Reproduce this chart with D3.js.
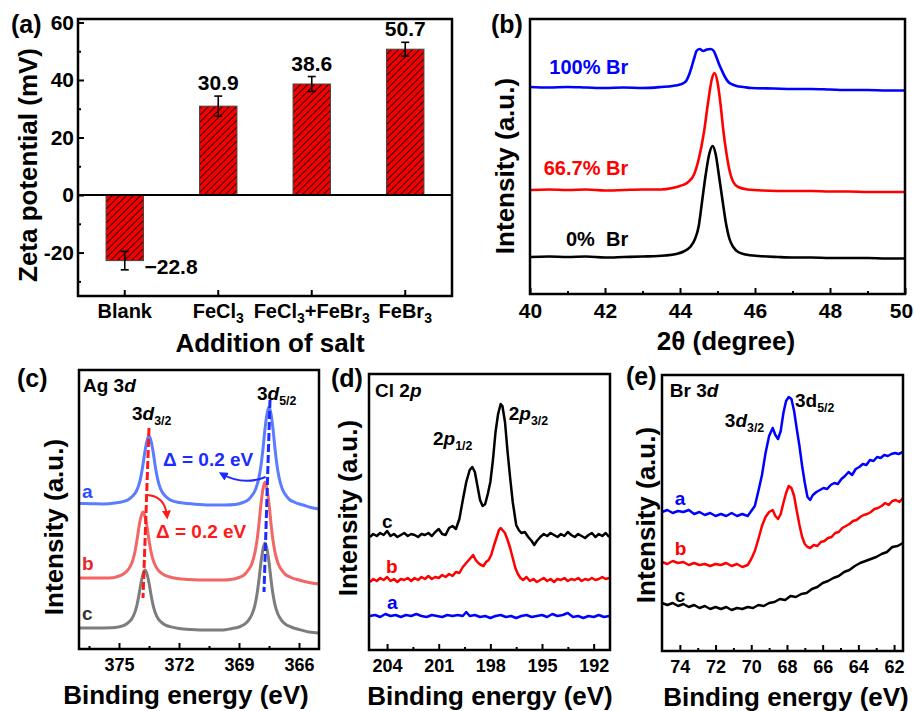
<!DOCTYPE html>
<html>
<head>
<meta charset="utf-8">
<script src="https://cdn.jsdelivr.net/npm/d3@7"></script>
<style>
  body { margin: 0; background: #fff; }
  svg text { font-family: "Liberation Sans", Arial, sans-serif; font-weight: bold; }
</style>
</head>
<body>
<svg id="fig" width="914" height="711"></svg>
<script>
/*
     GLOBAL LAYOUT CONSTANTS
     plot frames of the five panels, in page pixels
*/
var width = 914;
var height = 711;

var boxA = {left: 78,  top: 19,  right: 452, bottom: 296};
var boxB = {left: 530, top: 19,  right: 905, bottom: 294};
var boxC = {left: 79,  top: 370, right: 319, bottom: 649};
var boxD = {left: 369, top: 374, right: 610, bottom: 650};
var boxE = {left: 662, top: 375, right: 903, bottom: 651};

/*
     DATA (a) zeta potential
*/
var salts = ["Blank", "FeCl3", "FeCl3+FeBr3", "FeBr3"];
var zeta = [-22.8, 30.9, 38.6, 50.7];
var zetaErr = [3.2, 3.5, 2.6, 2.4];
var zetaTicks = [-20, 0, 20, 40, 60];
var zetaMinor = [-30, -10, 10, 30, 50];

/*
     DATA (b) XRD, 2theta vs intensity (a.u.)
*/
var xrdTicks = [40, 42, 44, 46, 48, 50];
var xrdMinor = [41, 43, 45, 47, 49];
var xrd0 = [[40,37],[40.5,37.5],[41,37],[41.5,37.5],[42,36.5],[42.5,37],[43,37.5],[43.6,38.5],[43.9,40],[44.1,42.5],[44.27,47],[44.4,55],[44.5,68],[44.58,90],[44.68,118],[44.78,140],[44.87,148],[44.95,140],[45.04,118],[45.14,92],[45.22,72],[45.32,55],[45.42,47],[45.55,42],[45.75,39.5],[46.1,38],[46.6,37],[47,36.5],[47.5,36.5],[48,36],[48.5,36],[49,36],[49.5,35.5],[50,35.5]];
var xrd67 = [[40,104],[40.5,104.5],[41,104],[41.5,104.5],[42,103.5],[42.5,104],[43,104.5],[43.5,104.5],[43.8,106],[44.0,108],[44.22,112],[44.38,120],[44.5,135],[44.64,162],[44.75,192],[44.85,215],[44.92,221],[45.0,212],[45.08,190],[45.16,162],[45.25,138],[45.33,122],[45.42,112],[45.55,107],[45.8,104.5],[46.2,103.5],[47,103],[47.5,103],[48,102.5],[48.5,102.5],[49,102],[49.5,102],[50,102]];
var xrd100 = [[40,207],[40.5,206.5],[41,207],[41.5,206.5],[42,206],[42.5,206.5],[43,206],[43.5,207],[43.8,208],[44.0,209.5],[44.1,211],[44.18,214],[44.25,220],[44.31,227],[44.38,236],[44.44,243],[44.52,245],[44.62,243],[44.72,244.5],[44.82,245],[44.9,243],[44.98,236],[45.05,229],[45.11,224],[45.2,217],[45.29,212],[45.4,209.5],[45.51,208],[45.7,207],[45.9,206],[46.5,205.5],[47,205],[47.5,205],[48,204.5],[48.5,204],[49,204],[49.5,203.5],[50,203.5]];

/*
     DATA (c) Ag 3d XPS, binding energy (eV) vs intensity (a.u.)
*/
var agTicks = [375, 372, 369, 366];
var agMinor = [376.5, 373.5, 370.5, 367.5];
var agA = [[377.0,145.5],[376.4,145.3],[375.8,145.1],[375.2,146],[374.8,147.4],[374.5,149.8],[374.3,153.2],[374.15,157.2],[374.0,164.7],[373.9,172.9],[373.8,184.4],[373.7,198],[373.6,208.2],[373.5,213],[373.4,208.2],[373.3,198],[373.2,184.4],[373.1,172.9],[373.0,164.7],[372.85,157.2],[372.7,153.2],[372.5,149.8],[372.2,147.4],[371.8,146],[371.3,145],[370.5,144],[369.7,144],[369.2,144.5],[368.8,146.5],[368.5,149.9],[368.3,154.9],[368.15,160.8],[368.0,171.7],[367.9,183.6],[367.8,200.4],[367.7,220.2],[367.6,235.1],[367.5,242],[367.4,235.1],[367.3,220.2],[367.2,200.4],[367.1,183.6],[367.0,171.7],[366.85,160.8],[366.7,154.9],[366.5,149.9],[366.2,146.5],[365.8,144],[365.4,141.5],[365.0,140]];
var agB = [[377.0,71],[376.2,71],[375.5,71],[375.1,72.3],[374.8,74.7],[374.6,78],[374.45,82.1],[374.3,89.4],[374.2,97.5],[374.1,108.9],[374.0,122.3],[373.9,132.3],[373.8,137],[373.7,132.3],[373.6,122.3],[373.5,108.9],[373.4,97.5],[373.3,89.4],[373.15,82.1],[373.0,78],[372.8,74.7],[372.5,72.3],[372.1,70.5],[371.5,69.5],[370.5,69],[369.8,69],[369.4,69.5],[369.0,71.5],[368.7,74.9],[368.5,79.9],[368.35,85.8],[368.2,96.7],[368.1,108.6],[368.0,125.4],[367.9,145.2],[367.8,160.1],[367.7,167],[367.6,160.1],[367.5,145.2],[367.4,125.4],[367.3,108.6],[367.2,96.7],[367.05,85.8],[366.9,79.9],[366.7,74.9],[366.4,71.5],[366.0,69],[365.5,66.5],[365.0,65]];
var agC = [[377.0,21],[376.2,21],[375.4,21.2],[375.0,22.1],[374.7,24.1],[374.5,27.1],[374.35,30.6],[374.2,37.1],[374.1,44.2],[374.0,54.2],[373.9,66],[373.8,74.9],[373.7,79],[373.6,74.9],[373.5,66],[373.4,54.2],[373.3,44.2],[373.2,37.1],[373.05,30.6],[372.9,27.1],[372.7,24.1],[372.4,22.1],[372.0,20.5],[371.4,19.5],[370.5,19],[369.8,19],[369.4,20.3],[369.0,22],[368.7,25.1],[368.5,29.4],[368.35,34.7],[368.2,44.2],[368.1,54.7],[368.0,69.5],[367.9,86.9],[367.8,99.9],[367.7,106],[367.6,99.9],[367.5,86.9],[367.4,69.5],[367.3,54.7],[367.2,44.2],[367.05,34.7],[366.9,29.4],[366.7,25.1],[366.4,22],[366.0,19.5],[365.5,17],[365.0,16]];

/*
     DATA (d) Cl 2p XPS
*/
var clTicks = [204, 201, 198, 195, 192];
var clMinor = [202.5, 199.5, 196.5, 193.5];
var clC = [[205.0,113],[204.8,116],[204.6,114],[204.4,117],[204.2,115],[204.0,119],[203.8,114],[203.6,116],[203.4,113],[203.2,115],[203.0,117],[202.8,114],[202.6,116],[202.4,115],[202.2,113],[202.0,116],[201.8,115],[201.6,117],[201.4,114],[201.2,118],[201.0,121],[200.8,116],[200.6,115],[200.4,122],[200.2,124],[200.0,121],[199.8,131],[199.6,150],[199.4,168],[199.2,180],[199.05,183],[198.9,178],[198.75,164],[198.6,150],[198.45,144],[198.3,146],[198.15,156],[198.0,168],[197.85,190],[197.7,218],[197.55,236],[197.4,246],[197.3,244],[197.15,228],[197.0,198],[196.85,172],[196.7,148],[196.5,125],[196.35,120],[196.2,117],[196.0,118],[195.8,113],[195.6,109],[195.45,105],[195.3,109],[195.1,113],[194.9,116],[194.7,114],[194.5,117],[194.3,115],[194.1,113],[193.9,116],[193.7,114],[193.5,118],[193.3,115],[193.1,113],[192.9,116],[192.7,114],[192.5,112],[192.3,115],[192.1,117],[191.9,113],[191.7,116],[191.5,114],[191.3,117],[191.1,113]];
var clB = [[205.0,68],[204.8,71],[204.6,69],[204.4,72],[204.2,70],[204.0,73],[203.8,69],[203.6,71],[203.4,68],[203.2,71],[203.0,70],[202.8,72],[202.6,69],[202.4,72],[202.2,70],[202.0,73],[201.8,71],[201.6,74],[201.4,71],[201.2,73],[201.0,72],[200.8,75],[200.6,73],[200.4,76],[200.2,74],[200.0,78],[199.8,77],[199.6,83],[199.4,87],[199.2,91],[199.0,95],[198.85,90],[198.7,87],[198.55,85],[198.4,84],[198.25,88],[198.1,90],[197.95,95],[197.8,104],[197.65,112],[197.5,120],[197.4,122],[197.3,120],[197.15,117],[197.0,110],[196.85,102],[196.7,92],[196.55,82],[196.4,76],[196.25,72],[196.1,70],[195.9,73],[195.7,69],[195.5,71],[195.3,68],[195.1,70],[194.9,72],[194.7,69],[194.5,71],[194.3,68],[194.1,71],[193.9,70],[193.7,72],[193.5,69],[193.3,71],[193.1,70],[192.9,72],[192.7,69],[192.5,71],[192.3,70],[192.1,72],[191.9,70],[191.7,71],[191.5,73],[191.3,71],[191.1,72]];
var clA = [[205.0,34],[204.7,35],[204.4,33],[204.1,36],[203.8,34],[203.5,35],[203.2,33],[202.9,35],[202.6,34],[202.3,36],[202.0,34],[201.7,33],[201.4,35],[201.1,34],[200.8,33],[200.5,35],[200.2,34],[199.9,35],[199.6,34],[199.4,38],[199.2,34],[198.9,35],[198.6,33],[198.3,34],[198.0,32],[197.7,34],[197.4,35],[197.1,33],[196.8,34],[196.5,32],[196.2,34],[195.9,35],[195.6,33],[195.3,34],[195.0,35],[194.7,33],[194.4,36],[194.1,34],[193.8,35],[193.5,37],[193.2,33],[192.9,34],[192.6,32],[192.3,34],[192.0,33],[191.7,35],[191.4,33],[191.1,34]];

/*
     DATA (e) Br 3d XPS
*/
var brTicks = [74, 72, 70, 68, 66, 64, 62];
var brMinor = [73, 71, 69, 67, 65, 63];
var brA = [[75.0,139],[74.7,141],[74.4,138],[74.1,140],[73.8,139],[73.5,141],[73.2,137],[72.9,139],[72.6,136],[72.3,138],[72.0,135],[71.7,137],[71.4,135],[71.1,138],[70.8,135],[70.5,137],[70.2,135],[70.0,140],[69.8,145],[69.6,160],[69.4,176],[69.2,198],[69.0,215],[68.8,223],[68.65,216],[68.5,212],[68.35,220],[68.2,238],[68.05,250],[67.9,254],[67.75,252],[67.6,240],[67.45,222],[67.3,205],[67.15,185],[67.0,168],[66.85,154],[66.7,151],[66.55,156],[66.35,159],[66.15,161],[65.95,163],[65.75,162],[65.55,166],[65.35,168],[65.15,167],[64.95,172],[64.75,175],[64.55,179],[64.35,176],[64.15,182],[63.95,184],[63.75,187],[63.55,186],[63.35,191],[63.15,190],[62.95,194],[62.75,193],[62.55,196],[62.35,195],[62.15,197],[61.95,198],[61.75,197],[61.5,199]];
var brB = [[75.0,89],[74.7,87],[74.4,90],[74.1,88],[73.8,89],[73.5,86],[73.2,88],[72.9,86],[72.6,87],[72.3,85],[72.0,87],[71.7,86],[71.4,88],[71.1,85],[70.8,87],[70.5,84],[70.2,86],[70.0,92],[69.8,100],[69.6,112],[69.4,125],[69.2,134],[69.0,139],[68.8,141],[68.65,135],[68.5,132],[68.35,137],[68.2,148],[68.05,158],[67.9,165],[67.75,163],[67.6,155],[67.45,140],[67.3,126],[67.15,114],[67.0,107],[66.85,104],[66.7,103],[66.5,106],[66.3,105],[66.1,109],[65.9,110],[65.7,113],[65.5,114],[65.3,118],[65.1,119],[64.9,123],[64.7,125],[64.5,127],[64.3,130],[64.1,131],[63.9,134],[63.7,136],[63.5,137],[63.3,139],[63.1,142],[62.9,143],[62.7,145],[62.5,148],[62.3,146],[62.1,150],[61.9,151],[61.7,149],[61.5,153]];
var brC = [[75.0,48],[74.7,46],[74.4,48],[74.1,45],[73.8,47],[73.5,44],[73.2,46],[72.9,43],[72.6,45],[72.3,42],[72.0,44],[71.7,42],[71.4,44],[71.1,41],[70.8,43],[70.5,42],[70.2,44],[69.9,43],[69.6,46],[69.3,45],[69.0,48],[68.7,49],[68.4,52],[68.1,51],[67.8,55],[67.5,54],[67.2,57],[66.9,58],[66.6,62],[66.3,64],[66.0,68],[65.7,70],[65.4,73],[65.1,75],[64.8,79],[64.5,81],[64.2,85],[63.9,88],[63.6,90],[63.3,92],[63.0,94],[62.7,97],[62.4,99],[62.1,104],[61.8,105],[61.5,108]];


var svg = d3.select("#fig");
var defs = svg.append("defs");


/*
     HELPERS
*/
function makePanel(box, xDomain, yDomain) {
  var x = d3.scaleLinear().domain(xDomain).range([box.left, box.right]);
  var y = d3.scaleLinear().domain(yDomain).range([box.bottom, box.top]);
  return {g: svg.append("g"), x: x, y: y, box: box};
}

function drawFrame(p) {
  p.g.append("rect")
    .attr("x", p.box.left).attr("y", p.box.top)
    .attr("width", p.box.right - p.box.left)
    .attr("height", p.box.bottom - p.box.top)
    .attr("fill", "none").attr("stroke", "#000").attr("stroke-width", 2.5);
}

// ticks point inside the frame, the minor ones carry no label
function bottomTicks(p, majors, minors, fs) {
  var gMaj = p.g.append("g")
    .attr("transform", "translate(0," + p.box.bottom + ")")
    .call(d3.axisBottom(p.x).tickValues(majors).tickSize(-6).tickPadding(9).tickFormat(d3.format("d")));
  var gMin = p.g.append("g")
    .attr("transform", "translate(0," + p.box.bottom + ")")
    .call(d3.axisBottom(p.x).tickValues(minors).tickSize(-3).tickFormat(""));
  [gMaj, gMin].forEach(function(a) {
    a.select(".domain").remove();
    a.selectAll("line").attr("stroke-width", 2);
  });
  gMaj.attr("font-size", fs).selectAll("text").attr("fill", "#000");
  return gMaj;
}

function drawSpectrum(p, pts, color, curve, sw) {
  var line = d3.line()
    .x(function(d) { return p.x(d[0]); })
    .y(function(d) { return p.y(d[1]); })
    .curve(curve || d3.curveLinear);
  p.g.append("path").datum(pts)
    .attr("d", line)
    .attr("fill", "none")
    .attr("stroke", color)
    .attr("stroke-width", sw || 2.5)
    .attr("stroke-linejoin", "round");
}

// parts: [text, flags]  flags: "i" italic, "s" subscript
function richText(g, x, y, parts, fs, color, anchor) {
  var t = g.append("text")
    .attr("x", x).attr("y", y)
    .attr("font-size", fs)
    .attr("fill", color || "#000")
    .attr("text-anchor", anchor || "start");
  var down = false;
  parts.forEach(function(pt) {
    var ts = t.append("tspan").text(pt[0]);
    var f = pt[1] || "";
    if (f.indexOf("i") >= 0) ts.attr("font-style", "italic");
    if (f.indexOf("s") >= 0) {
      ts.attr("font-size", fs * 0.65);
      if (!down) { ts.attr("dy", fs * 0.25); down = true; }
    } else if (down) {
      ts.attr("dy", -fs * 0.25); down = false;
    }
  });
  return t;
}

function yTitle(g, xBase, yMid, label) {
  g.append("text")
    .attr("transform", "translate(" + xBase + "," + yMid + ") rotate(-90)")
    .attr("text-anchor", "middle")
    .attr("font-size", 26)
    .text(label);
}

function xTitle(g, xMid, yBase, label) {
  g.append("text")
    .attr("x", xMid).attr("y", yBase)
    .attr("text-anchor", "middle")
    .attr("font-size", 26)
    .text(label);
}

function panelTag(x, y, label) {
  svg.append("text").attr("x", x).attr("y", y).attr("font-size", 25).text(label);
}

function arrowMarker(id, color) {
  defs.append("marker")
    .attr("id", id)
    .attr("viewBox", "0 0 10 10")
    .attr("refX", 6).attr("refY", 5)
    .attr("markerWidth", 9).attr("markerHeight", 9)
    .attr("markerUnits", "userSpaceOnUse")
    .attr("orient", "auto")
    .append("path").attr("d", "M0,0 L10,5 L0,10 z").attr("fill", color);
}


/*
     PANEL (a)  zeta potential bars
*/
function drawZeta() {
  var g = svg.append("g");
  var x = d3.scaleBand().domain(salts).range([boxA.left, boxA.right]).paddingInner(0.6).paddingOuter(0.3);
  var y = d3.scaleLinear().domain([-35.1, 61.2]).range([boxA.bottom, boxA.top]);

  var pat = defs.append("pattern")
    .attr("id", "hatch").attr("patternUnits", "userSpaceOnUse")
    .attr("width", 7).attr("height", 7);
  pat.append("rect").attr("width", 7).attr("height", 7).attr("fill", "#f50000");
  pat.append("path").attr("d", "M-1,1 l2,-2 M0,7 l7,-7 M6,8 l2,-2")
    .attr("stroke", "#3a0000").attr("stroke-width", 1.1);

  g.selectAll(".bar").data(salts).enter().append("rect")
    .attr("class", "bar")
    .attr("x", function(d) { return x(d); })
    .attr("width", x.bandwidth())
    .attr("y", function(d, i) { return y(Math.max(zeta[i], 0)); })
    .attr("height", function(d, i) { return Math.abs(y(zeta[i]) - y(0)); })
    .attr("fill", "url(#hatch)")
    .attr("stroke", "#444").attr("stroke-width", 1);

  // zero line
  g.append("line")
    .attr("x1", boxA.left).attr("x2", boxA.right)
    .attr("y1", y(0)).attr("y2", y(0))
    .attr("stroke", "#000").attr("stroke-width", 2);

  // error bars
  var eb = g.selectAll(".err").data(salts).enter().append("g").attr("class", "err");
  eb.append("line")
    .attr("x1", function(d) { return x(d) + x.bandwidth() / 2; })
    .attr("x2", function(d) { return x(d) + x.bandwidth() / 2; })
    .attr("y1", function(d, i) { return y(zeta[i] - zetaErr[i]); })
    .attr("y2", function(d, i) { return y(zeta[i] + zetaErr[i]); });
  [-1, 1].forEach(function(s) {
    eb.append("line")
      .attr("x1", function(d) { return x(d) + x.bandwidth() / 2 - 4; })
      .attr("x2", function(d) { return x(d) + x.bandwidth() / 2 + 4; })
      .attr("y1", function(d, i) { return y(zeta[i] + s * zetaErr[i]); })
      .attr("y2", function(d, i) { return y(zeta[i] + s * zetaErr[i]); });
  });
  eb.selectAll("line").attr("stroke", "#000").attr("stroke-width", 1.6);

  // value labels
  var fmt = d3.format(".1f");
  g.selectAll(".val").data(salts).enter().append("text")
    .attr("class", "val")
    .attr("font-size", 21)
    .attr("text-anchor", function(d, i) { return zeta[i] < 0 ? "start" : "middle"; })
    .attr("x", function(d, i) { return zeta[i] < 0 ? x(d) + x.bandwidth() + 1 : x(d) + x.bandwidth() / 2; })
    .attr("y", function(d, i) { return zeta[i] < 0 ? y(zeta[i]) + 13 : y(zeta[i] + zetaErr[i]) - 6; })
    .text(function(d, i) { return fmt(zeta[i]); });

  // axes (plain hyphen on the tick labels, like the original)
  var ay = g.append("g").attr("transform", "translate(" + boxA.left + ",0)")
    .call(d3.axisLeft(y).tickValues(zetaTicks).tickSize(-6).tickPadding(4).tickFormat(function(d) { return String(d); }));
  var ay2 = g.append("g").attr("transform", "translate(" + boxA.left + ",0)")
    .call(d3.axisLeft(y).tickValues(zetaMinor).tickSize(-3).tickFormat(""));
  var ax = g.append("g").attr("transform", "translate(0," + boxA.bottom + ")")
    .call(d3.axisBottom(x).tickSize(-6).tickPadding(8));
  [ay, ay2, ax].forEach(function(a) {
    a.select(".domain").remove();
    a.selectAll("line").attr("stroke-width", 2);
  });
  ay.attr("font-size", 21).selectAll("text").attr("fill", "#000");
  ax.attr("font-size", 20).selectAll("text").each(function(d) {
    var t = d3.select(this).attr("fill", "#000").text(null);
    var down = false;
    d.split(/(\d)/).forEach(function(s) {
      if (!s) return;
      var ts = t.append("tspan").text(s);
      if (/\d/.test(s)) { ts.attr("font-size", 14).attr("dy", 5); down = true; }
      else if (down) { ts.attr("dy", -5); down = false; }
    });
  });

  g.append("rect")
    .attr("x", boxA.left).attr("y", boxA.top)
    .attr("width", boxA.right - boxA.left).attr("height", boxA.bottom - boxA.top)
    .attr("fill", "none").attr("stroke", "#000").attr("stroke-width", 2.5);

  yTitle(g, 37, 165, "Zeta potential (mV)");
  xTitle(g, 270, 352, "Addition of salt");
  panelTag(11, 33, "(a)");
}


/*
     PANEL (b)  XRD
*/
function drawXrd() {
  var p = makePanel(boxB, [40, 50], [0, 275]);
  drawSpectrum(p, xrd0, "#000", d3.curveMonotoneX, 2.6);
  drawSpectrum(p, xrd67, "#ff0000", d3.curveMonotoneX, 2.6);
  drawSpectrum(p, xrd100, "#0000ff", d3.curveMonotoneX, 2.6);
  drawFrame(p);
  var ticks = bottomTicks(p, xrdTicks, xrdMinor, 21);
  // last label sits against the page edge
  ticks.selectAll("text").filter(function(d) { return d === 50; }).attr("dx", -4);

  var labX = p.x(42.62);
  richText(p.g, labX, p.y(220), [["100% Br"]], 20, "#0000ff", "end");
  richText(p.g, labX, p.y(119), [["66.7% Br"]], 20, "#ff0000", "end");
  richText(p.g, labX, p.y(48), [["0%\u00a0\u00a0Br"]], 20, "#000", "end");

  yTitle(p.g, 514, 166, "Intensity (a.u.)");
  xTitle(p.g, 726, 350, "2\u03b8 (degree)");
  panelTag(491, 33, "(b)");
}


/*
     PANEL (c)  Ag 3d
*/
function drawAg() {
  var p = makePanel(boxC, [377, 365], [0, 279]);
  drawSpectrum(p, agA, "#5c7cff", d3.curveMonotoneX, 3);
  drawSpectrum(p, agB, "#f26666", d3.curveMonotoneX, 3);
  drawSpectrum(p, agC, "#7d7d7d", d3.curveMonotoneX, 3);

  // peak shift guides
  p.g.append("line")
    .attr("x1", p.x(373.5)).attr("y1", p.y(221))
    .attr("x2", p.x(373.8)).attr("y2", p.y(51))
    .attr("stroke", "#ff1a1a").attr("stroke-width", 3).attr("stroke-dasharray", "8,3");
  p.g.append("line")
    .attr("x1", p.x(367.45)).attr("y1", p.y(249))
    .attr("x2", p.x(367.75)).attr("y2", p.y(57))
    .attr("stroke", "#1a2cff").attr("stroke-width", 3).attr("stroke-dasharray", "8,3");

  arrowMarker("arrBlue", "#1a2cff");
  arrowMarker("arrRed", "#ff1a1a");
  p.g.append("path")
    .attr("d", "M" + p.x(367.67) + "," + p.y(172) + " Q" + p.x(368.8) + "," + p.y(163) + " " + p.x(369.85) + "," + p.y(175))
    .attr("fill", "none").attr("stroke", "#1a2cff").attr("stroke-width", 2)
    .attr("marker-end", "url(#arrBlue)");
  p.g.append("path")
    .attr("d", "M" + p.x(373.6) + "," + p.y(154) + " Q" + p.x(372.7) + "," + p.y(153) + " " + p.x(372.6) + "," + p.y(133))
    .attr("fill", "none").attr("stroke", "#ff1a1a").attr("stroke-width", 2)
    .attr("marker-end", "url(#arrRed)");

  drawFrame(p);
  bottomTicks(p, agTicks, agMinor, 18);

  richText(p.g, p.x(376.8), p.y(257), [["Ag 3"], ["d", "i"]], 19);
  richText(p.g, p.x(374.35), p.y(229), [["3"], ["d", "i"], ["3/2", "s"]], 19);
  richText(p.g, p.x(368.1), p.y(249), [["3"], ["d", "i"], ["5/2", "s"]], 19);
  richText(p.g, p.x(372.8), p.y(183), [["\u0394 = 0.2 eV"]], 19, "#1a2cff");
  richText(p.g, p.x(373.15), p.y(111), [["\u0394 = 0.2 eV"]], 19, "#ff1a1a");
  richText(p.g, p.x(376.85), p.y(151), [["a"]], 19, "#2a4dff");
  richText(p.g, p.x(376.85), p.y(79), [["b"]], 19, "#e8262b");
  richText(p.g, p.x(376.85), p.y(29), [["c"]], 19, "#333");

  yTitle(p.g, 63, 527, "Intensity (a.u.)");
  xTitle(p.g, 186, 704, "Binding energy (eV)");
  panelTag(17, 387, "(c)");
}


/*
     PANEL (d)  Cl 2p
*/
function drawCl() {
  var p = makePanel(boxD, [205.05, 191.05], [0, 276]);
  drawSpectrum(p, clC, "#000");
  drawSpectrum(p, clB, "#ff0000");
  drawSpectrum(p, clA, "#0000ff");
  drawFrame(p);
  bottomTicks(p, clTicks, clMinor, 18);

  richText(p.g, p.x(204.7), p.y(253), [["Cl 2"], ["p", "i"]], 19);
  richText(p.g, p.x(201.33), p.y(205), [["2"], ["p", "i"], ["1/2", "s"]], 19);
  richText(p.g, p.x(196.93), p.y(230), [["2"], ["p", "i"], ["3/2", "s"]], 19);
  richText(p.g, p.x(204.29), p.y(122), [["c"]], 19, "#000");
  richText(p.g, p.x(204.06), p.y(77), [["b"]], 19, "#ff0000");
  richText(p.g, p.x(204.0), p.y(41), [["a"]], 19, "#0000ff");

  yTitle(p.g, 357, 508, "Intensity (a.u.)");
  xTitle(p.g, 490, 705, "Binding energy (eV)");
  panelTag(331, 387, "(d)");
}


/*
     PANEL (e)  Br 3d
*/
function drawBr() {
  var p = makePanel(boxE, [75.0, 61.5], [0, 276]);
  drawSpectrum(p, brC, "#000");
  drawSpectrum(p, brB, "#ff0000");
  drawSpectrum(p, brA, "#0000ff");
  drawFrame(p);
  bottomTicks(p, brTicks, brMinor, 18);

  richText(p.g, p.x(74.56), p.y(254), [["Br 3"], ["d", "i"]], 19);
  richText(p.g, p.x(71.48), p.y(224), [["3"], ["d", "i"], ["3/2", "s"]], 19);
  richText(p.g, p.x(67.55), p.y(244), [["3d"], ["5/2", "s"]], 19);
  richText(p.g, p.x(74.28), p.y(146), [["a"]], 19, "#0000ff");
  richText(p.g, p.x(74.28), p.y(96), [["b"]], 19, "#ff0000");
  richText(p.g, p.x(74.28), p.y(49), [["c"]], 19, "#000");

  yTitle(p.g, 655, 515, "Intensity (a.u.)");
  xTitle(p.g, 786, 706, "Binding energy (eV)");
  panelTag(626, 385, "(e)");
}


drawZeta();
drawXrd();
drawAg();
drawCl();
drawBr();
</script>
</body>
</html>
